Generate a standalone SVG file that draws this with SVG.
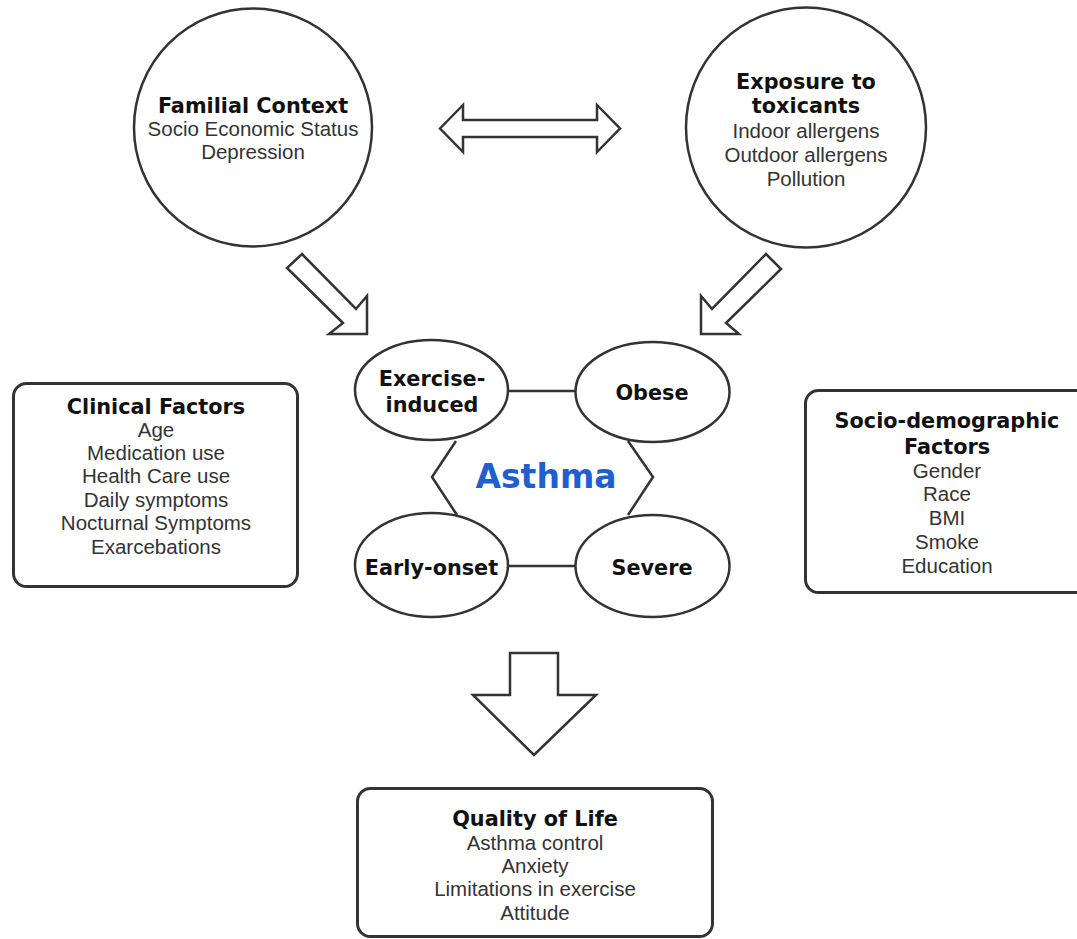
<svg xmlns="http://www.w3.org/2000/svg" width="1077" height="939" viewBox="0 0 1077 939">
<style>
.sh{fill:#fff;stroke:#333;stroke-width:2.5}
.bx{fill:#fff;stroke:#333;stroke-width:3}
.ln{fill:none;stroke:#333;stroke-width:2.5}
.b{font-family:"DejaVu Sans",Verdana,sans-serif;font-weight:bold;font-size:20.8px;fill:#111;text-anchor:middle}
.r{font-family:"Liberation Sans",Arial,sans-serif;font-size:20.5px;fill:#333;text-anchor:middle}
.a{font-family:"DejaVu Sans",Verdana,sans-serif;font-weight:bold;font-size:33px;fill:#1f5fcf;text-anchor:middle}
</style>
<rect width="1077" height="939" fill="#fff"/>
<g id="connectors">
<polygon class="sh" points="440,128.5 463,105 463,120 597,120 597,105 620,128.5 597,152 597,137 463,137 463,152"/>
<polygon class="sh" points="302,254 356,309 367,296 367,334 329,334 343,323 287,268"/>
<polygon class="sh" points="766,254 781,269 726,323 739,334 701,334 701,296 712,309"/>
<polygon class="sh" points="510,653 558,653 558,695 596,695 534,755 473,695 510,695"/>
<line class="ln" x1="508" y1="391" x2="575" y2="391"/>
<line class="ln" x1="508" y1="566" x2="575" y2="566"/>
<polyline class="ln" points="456,441 432,477 457,515"/>
<polyline class="ln" points="628,441 653,477 628,515"/>
</g>
<g id="familial">
<circle class="sh" cx="253" cy="127.5" r="119"/>
<text class="b" x="253" y="113">Familial Context</text>
<text class="r" x="253" y="136">Socio Economic Status</text>
<text class="r" x="253" y="159">Depression</text>
</g>
<g id="exposure">
<circle class="sh" cx="806" cy="127.5" r="120"/>
<text class="b" x="806" y="89">Exposure to</text>
<text class="b" x="806" y="113">toxicants</text>
<text class="r" x="806" y="138">Indoor allergens</text>
<text class="r" x="806" y="162">Outdoor allergens</text>
<text class="r" x="806" y="186">Pollution</text>
</g>
<g id="asthma">
<text class="a" x="546" y="488">Asthma</text>
</g>
<g id="exercise">
<ellipse class="sh" cx="431.5" cy="390" rx="76.5" ry="50"/>
<text class="b" x="432" y="386">Exercise-</text>
<text class="b" x="432" y="412">induced</text>
</g>
<g id="obese">
<ellipse class="sh" cx="652.5" cy="392" rx="77" ry="50"/>
<text class="b" x="652" y="400">Obese</text>
</g>
<g id="early">
<ellipse class="sh" cx="431.5" cy="565" rx="76.5" ry="52"/>
<text class="b" x="431.5" y="575">Early-onset</text>
</g>
<g id="severe">
<ellipse class="sh" cx="652.5" cy="566" rx="77" ry="51"/>
<text class="b" x="652" y="575">Severe</text>
</g>
<g id="clinical">
<rect class="bx" x="13.5" y="383.5" width="284" height="203" rx="13"/>
<text class="b" x="156" y="414">Clinical Factors</text>
<text class="r" x="156" y="437">Age</text>
<text class="r" x="156" y="460">Medication use</text>
<text class="r" x="156" y="483">Health Care use</text>
<text class="r" x="156" y="507">Daily symptoms</text>
<text class="r" x="156" y="530">Nocturnal Symptoms</text>
<text class="r" x="156" y="554">Exarcebations</text>
</g>
<g id="sociodemo">
<rect class="bx" x="805.5" y="390.5" width="284" height="202" rx="13"/>
<text class="b" x="947" y="428">Socio-demographic</text>
<text class="b" x="947" y="454">Factors</text>
<text class="r" x="947" y="478">Gender</text>
<text class="r" x="947" y="501">Race</text>
<text class="r" x="947" y="525">BMI</text>
<text class="r" x="947" y="549">Smoke</text>
<text class="r" x="947" y="573">Education</text>
</g>
<g id="quality">
<rect class="bx" x="357.5" y="788.5" width="355" height="148" rx="13"/>
<text class="b" x="535" y="826">Quality of Life</text>
<text class="r" x="535" y="850">Asthma control</text>
<text class="r" x="535" y="873">Anxiety</text>
<text class="r" x="535" y="896">Limitations in exercise</text>
<text class="r" x="535" y="920">Attitude</text>
</g>
</svg>
